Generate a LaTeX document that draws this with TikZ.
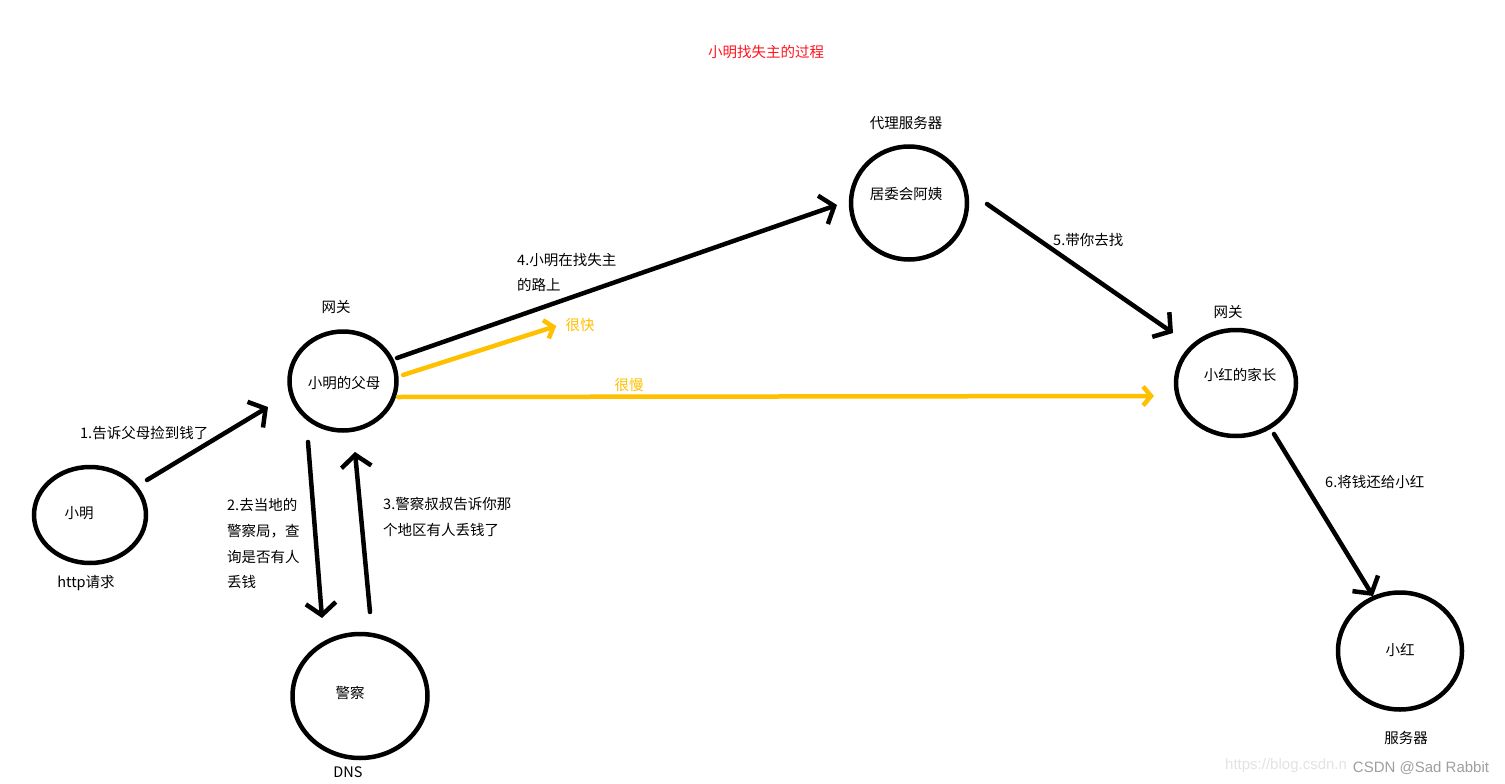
\documentclass[tikz,border=0pt]{standalone}
\usepackage{fontspec}
\setmainfont{Noto Sans CJK SC}
\newfontfamily\wmfont{Liberation Sans}
\usetikzlibrary{shapes.geometric,arrows.meta,calc}
\definecolor{goldline}{RGB}{255,192,0}
\definecolor{titlered}{RGB}{255,20,30}
\begin{document}
\begin{tikzpicture}[x=1pt,y=-1pt,
  blob/.style={draw=black, line width=4.5pt, ellipse, inner sep=0pt},
  txt/.style={inner sep=0pt, font=\fontsize{14.5}{25.6}\selectfont},
  ltxt/.style={txt, anchor=north west, align=left},
  blk/.style={draw=black, line width=4.5pt, line cap=round, line join=round, -{Straight Barb[length=12pt,width=30pt]}},
  gold/.style={draw=goldline, line width=4.5pt, line cap=round, line join=round, -{Straight Barb[length=8pt,width=19pt]}}]
\fill[white] (0,0) rectangle (1505,784);
\useasboundingbox (0,0) rectangle (1505,784);

% circles
\node[blob, minimum width=112pt, minimum height=96pt] (xm) at (90,515) {};
\node[blob, minimum width=107pt, minimum height=99pt] (pm) at (343,381) {};
\node[blob, minimum width=135pt, minimum height=124pt] (jc) at (360,696) {};
\node[blob, minimum width=116pt, minimum height=113pt] (jw) at (909,203) {};
\node[blob, minimum width=120pt, minimum height=106pt] (hj) at (1236,383) {};
\node[blob, minimum width=124pt, minimum height=117pt] (xh) at (1400,651) {};

% texts inside / around circles
\node[txt] (t-xm) at (79,513) {小明};
\node[txt] (t-http) at (86,583) {http请求};
\node[txt] (t-gw1) at (336,307) {网关};
\node[txt] (t-pm) at (344,383) {小明的父母};
\node[txt] (t-jc) at (350,693) {警察};
\node[txt] (t-dns) at (348,772) {DNS};
\node[txt] (t-proxy) at (906,123) {代理服务器};
\node[txt] (t-jw) at (906,194) {居委会阿姨};
\node[txt] (t-gw2) at (1228,312) {网关};
\node[txt] (t-hj) at (1240,375) {小红的家长};
\node[txt] (t-xh) at (1400,650) {小红};
\node[txt] (t-srv) at (1406,738) {服务器};
\node[txt, text=titlered] (title) at (766,52) {小明找失主的过程};

% step labels
\node[txt, anchor=west] (l1) at (80,433) {1.告诉父母捡到钱了};
\node[ltxt] (l2) at (227,498.5) {2.去当地的\\警察局，查\\询是否有人\\丢钱};
\node[ltxt] (l3) at (383,497.5) {3.警察叔叔告诉你那\\个地区有人丢钱了};
\node[ltxt] (l4) at (517,253) {4.小明在找失主\\的路上};
\node[txt, anchor=west] (l5) at (1053,240) {5.带你去找};
\node[txt, anchor=west] (l6) at (1325,482) {6.将钱还给小红};
\node[txt, text=goldline] (fast) at (580,325) {很快};
\node[txt, text=goldline] (slow) at (629,385) {很慢};

% arrows
\draw[blk] ($(xm)+(57,-35)$) -- ($(pm)+(-75,26)$);
\draw[blk] ($(pm)+(-35,61)$) -- ($(jc)+(-38,-78)$);
\draw[blk] ($(jc)+(10,-84)$) -- ($(pm)+(12,71)$);
\draw[blk] ($(pm)+(54,-23)$) -- ($(jw)+(-72,2)$);
\draw[blk] ($(jw)+(78,1)$) -- ($(hj)+(-63,-50)$);
\draw[blk] ($(hj)+(38,51)$) -- ($(xh)+(-27,-55)$);
\draw[gold] ($(pm)+(60,-6)$) -- ($(fast.west)+(-9,1)$);
\draw[gold] ($(pm)+(55,16)$) -- ($(hj)+(-82,13)$);

% watermark
\node[inner sep=0pt, anchor=west, text=gray!22, font=\wmfont\fontsize{15}{15}\selectfont] (wm1) at (1225,766) {https://blog.csdn.n};
\node[inner sep=0pt, text=gray!75, font=\wmfont\fontsize{15}{15}\selectfont] (wm2) at (1421,768) {CSDN @Sad Rabbit};
\end{tikzpicture}
\end{document}
